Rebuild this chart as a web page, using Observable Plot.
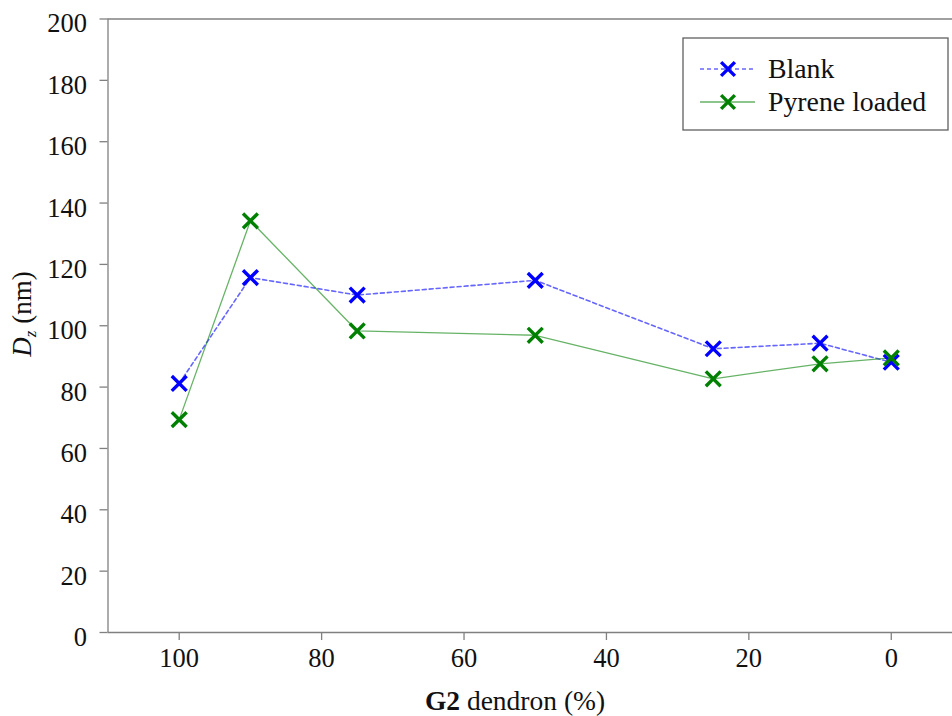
<!DOCTYPE html>
<html>
<head>
<meta charset="utf-8">
<script src="https://cdn.jsdelivr.net/npm/d3@7"></script>
<script src="https://cdn.jsdelivr.net/npm/@observablehq/plot@0.6"></script>
<style>
  html, body { margin: 0; padding: 0; background: #fff; }
  #chart svg { display: block; }
  #chart svg, #chart svg text { font-family: "Liberation Serif", "Times New Roman", serif !important; }
</style>
</head>
<body>
<div id="chart"></div>
<script>
// G2 dendron content (%) of each formulation
const dendron = [100, 90, 75, 50, 25, 10, 0];
// Z-average diameter Dz (nm)
const blank = [81.2, 115.7, 110.0, 114.8, 92.5, 94.3, 88.1];
const pyrene = [69.4, 134.2, 98.3, 96.9, 82.7, 87.6, 89.5];

const seriesNames = ["Blank", "Pyrene loaded"];
const xTicks = [100, 80, 60, 40, 20, 0];
const yTicks = [0, 20, 40, 60, 80, 100, 120, 140, 160, 180, 200];

const blankRows = dendron.map((d, i) => ({x: d, y: blank[i]}));
const pyreneRows = dendron.map((d, i) => ({x: d, y: pyrene[i]}));

const FONT = '"Liberation Serif", "Times New Roman", serif';
const AXIS = "#808080";
const INK = "#111111";
const BLUE = "#0000ff";
const GREEN = "#008000";

const W = 952, H = 716;

const svg = Plot.plot({
  width: W,
  height: H,
  marginLeft: 107.5,
  marginRight: 0,
  marginTop: 18.5,
  marginBottom: 84,
  style: {fontFamily: FONT, fontSize: "26px", color: INK, background: "#fff"},
  x: {domain: [110, -8.6], axis: null},
  y: {domain: [0, 200], axis: null},
  marks: [
    // frame: top edge, left edge
    Plot.ruleY([200], {stroke: AXIS, strokeWidth: 1.3}),
    Plot.ruleX([110], {stroke: AXIS, strokeWidth: 1.3}),
    // y axis: ticks, then labels nudged down
    Plot.axisY({ticks: yTicks, tickSize: 8, fill: "none", stroke: AXIS, strokeWidth: 1.3, label: null}),
    Plot.axisY({ticks: yTicks, tickSize: 0, tickPadding: 21, dy: 5, stroke: "none", fill: INK, fontFamily: FONT, fontSize: 26.5, label: null}),
    // x axis
    Plot.ruleY([0], {stroke: AXIS, strokeWidth: 1.3}),
    Plot.axisX({ticks: xTicks, tickSize: 8, tickPadding: 8, stroke: AXIS, fill: INK, strokeWidth: 1.3, fontFamily: FONT, fontSize: 26.5, label: null}),
    // series
    Plot.line(blankRows, {x: "x", y: "y", stroke: BLUE, strokeOpacity: 0.6, strokeWidth: 1.6, strokeDasharray: "4,3"}),
    Plot.line(pyreneRows, {x: "x", y: "y", stroke: GREEN, strokeOpacity: 0.6, strokeWidth: 1.3}),
    Plot.dot(blankRows, {x: "x", y: "y", symbol: "times", r: 6.8, stroke: BLUE, strokeWidth: 3.4}),
    Plot.dot(pyreneRows, {x: "x", y: "y", symbol: "times", r: 6.8, stroke: GREEN, strokeWidth: 3.4})
  ]
});

document.getElementById("chart").appendChild(svg);

const s = d3.select(svg);

// y-axis title: D with subscript z, then the unit
const yTitle = s.append("text")
  .attr("transform", "translate(31,314) rotate(-90)")
  .attr("text-anchor", "middle")
  .attr("font-family", FONT)
  .attr("font-size", 27)
  .attr("fill", INK);
yTitle.append("tspan").attr("font-style", "italic").text("D");
yTitle.append("tspan").attr("font-style", "italic").attr("font-size", 17).attr("dy", 5).text("z");
yTitle.append("tspan").attr("dy", -5).text(" (nm)");

// x-axis title: bold G2 followed by the rest
const xTitle = s.append("text")
  .attr("x", 515)
  .attr("y", 710)
  .attr("text-anchor", "middle")
  .attr("font-family", FONT)
  .attr("font-size", 27.5)
  .attr("fill", INK);
xTitle.append("tspan").attr("font-weight", "bold").text("G2");
xTitle.append("tspan").text(" dendron (%)");

// legend box
const legend = s.append("g")
  .attr("font-family", FONT)
  .attr("font-size", 27.8)
  .attr("text-anchor", "start");
legend.append("rect")
  .attr("x", 683).attr("y", 38).attr("width", 265).attr("height", 92)
  .attr("fill", "#fff").attr("stroke", "#606060").attr("stroke-width", 1.3);

const entries = [
  {name: seriesNames[0], color: BLUE, dash: "4,3", width: 1.6, y: 69},
  {name: seriesNames[1], color: GREEN, dash: null, width: 1.3, y: 102}
];
const cross = d3.symbol(d3.symbolTimes, Math.PI * 40)();
for (const e of entries) {
  legend.append("line")
    .attr("x1", 700).attr("x2", 755).attr("y1", e.y).attr("y2", e.y)
    .attr("stroke", e.color).attr("stroke-opacity", 0.6)
    .attr("stroke-width", e.width)
    .attr("stroke-dasharray", e.dash);
  legend.append("path")
    .attr("d", cross)
    .attr("transform", `translate(728,${e.y})`)
    .attr("fill", "none").attr("stroke", e.color).attr("stroke-width", 3.4);
  legend.append("text")
    .attr("x", 768).attr("y", e.y).attr("dy", "0.33em")
    .attr("text-anchor", "start")
    .attr("fill", INK)
    .text(e.name);
}
</script>
</body>
</html>
